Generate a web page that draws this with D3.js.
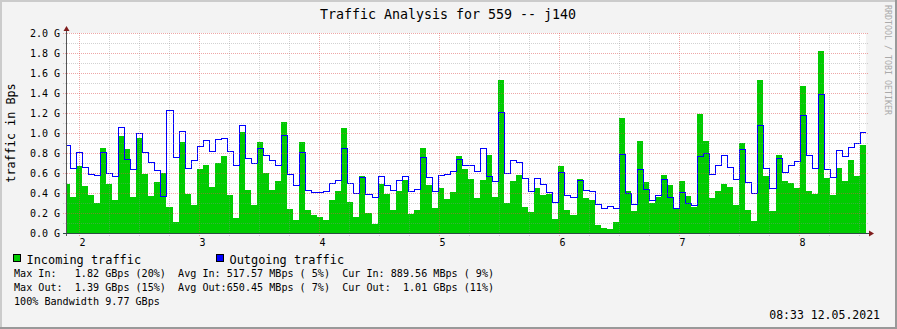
<!DOCTYPE html>
<html>
<head>
<meta charset="utf-8">
<script src="https://cdn.jsdelivr.net/npm/d3@7"></script>
<style>
  body { margin: 0; background: #f3f3f3; }
  text { font-family: "DejaVu Sans Mono", monospace; fill: #000; }
</style>
</head>
<body>
<div id="chart"></div>
<script>
// traffic values in G (Bps), one per 3-minute step
var inTraffic = [
  0.49, 0.36, 0.67, 0.47, 0.38, 0.30, 0.85, 0.49, 0.33, 0.97, 0.84, 0.36, 0.95, 0.59, 0.37, 0.51, 0.60, 0.26, 0.11, 0.91, 0.39, 0.28, 0.64,
  0.68, 0.46, 0.70, 0.77, 0.38, 0.15, 1.01, 0.43, 0.28, 0.91, 0.60, 0.43, 0.52, 1.11, 0.24, 0.13, 0.91, 0.23, 0.18, 0.16, 0.13, 0.33, 0.42,
  1.05, 0.31, 0.16, 0.57, 0.20, 0.09, 0.49, 0.39, 0.23, 0.42, 0.53, 0.19, 0.23, 0.85, 0.48, 0.25, 0.45, 0.34, 0.41, 0.77, 0.64, 0.54,
  0.35, 0.53, 0.78, 0.36, 1.53, 0.30, 0.52, 0.58, 0.26, 0.21, 0.45, 0.38, 0.39, 0.14, 0.67, 0.23, 0.18, 0.54, 0.35, 0.33, 0.08, 0.05,
  0.04, 0.11, 1.15, 0.42, 0.22, 0.92, 0.51, 0.30, 0.36, 0.58, 0.48, 0.25, 0.52, 0.37, 0.26, 1.19, 0.92, 0.35, 0.42, 0.49, 0.46, 0.28,
  0.90, 0.23, 0.12, 1.53, 0.57, 0.22, 0.78, 0.52, 0.50, 0.45, 1.47, 0.42, 0.39, 1.82, 0.55, 0.38, 0.65, 0.52, 0.73, 0.57, 0.88
];
var outTraffic = [
  0.88, 0.65, 0.81, 0.66, 0.59, 0.58, 0.81, 0.60, 0.57, 1.06, 0.74, 0.64, 1.00, 0.81, 0.71, 0.63, 0.37, 1.23, 0.76, 1.02, 0.65, 0.73, 0.87,
  0.93, 0.82, 0.94, 0.95, 0.82, 0.68, 1.08, 0.75, 0.70, 0.85, 0.78, 0.73, 0.68, 0.98, 0.59, 0.48, 0.81, 0.43, 0.41, 0.41, 0.42, 0.50, 0.53,
  0.85, 0.50, 0.40, 0.56, 0.39, 0.36, 0.57, 0.48, 0.43, 0.53, 0.57, 0.42, 0.44, 0.76, 0.56, 0.42, 0.58, 0.59, 0.62, 0.74, 0.68, 0.68,
  0.62, 0.85, 0.57, 0.52, 1.21, 0.60, 0.73, 0.71, 0.55, 0.42, 0.55, 0.49, 0.41, 0.31, 0.61, 0.38, 0.36, 0.53, 0.43, 0.42, 0.29, 0.25,
  0.27, 0.25, 0.79, 0.40, 0.29, 0.64, 0.44, 0.33, 0.38, 0.54, 0.36, 0.25, 0.41, 0.30, 0.28, 0.77, 0.80, 0.59, 0.68, 0.78, 0.66, 0.54,
  0.84, 0.51, 0.40, 1.08, 0.65, 0.45, 0.75, 0.61, 0.68, 0.72, 1.18, 0.78, 0.65, 1.39, 0.64, 0.56, 0.83, 0.77, 0.86, 0.90, 1.01
];
var startHour = 1.8748, stepHour = 0.05025;
var hourTicks = [2, 3, 4, 5, 6, 7, 8];
var yTicks = [0, 0.2, 0.4, 0.6, 0.8, 1.0, 1.2, 1.4, 1.6, 1.8, 2.0];

var titleText = "Traffic Analysis for 559 -- j140";
var legendItems = [{name: "Incoming traffic", color: "#00cc00"}, {name: "Outgoing traffic", color: "#0000ff"}];
var statLines = [
  "Max In:   1.82 GBps (20%)  Avg In: 517.57 MBps ( 5%)  Cur In: 889.56 MBps ( 9%)",
  "Max Out:  1.39 GBps (15%)  Avg Out:650.45 MBps ( 7%)  Cur Out:  1.01 GBps (11%)",
  "100% Bandwidth 9.77 GBps"
];
var dateText = "08:33 12.05.2021";

function drawGraph()
{
  var W = 897, H = 329;
  var pL = 66, pR = 866, pT = 33, pB = 233;

  var svg = d3.select('#chart').append('svg')
      .attr('width', W).attr('height', H);

  // background + 3d frame
  svg.append('rect').attr('width', W).attr('height', H).attr('fill', '#f3f3f3');
  svg.append('path').attr('d', `M1,${H} V1 H${W}`).attr('fill', 'none')
      .attr('stroke', '#cbcbcb').attr('stroke-width', 2);
  svg.append('path').attr('d', `M0,${H - 1} H${W - 1} V0`).attr('fill', 'none')
      .attr('stroke', '#999999').attr('stroke-width', 2);

  var x = d3.scaleLinear().domain([2 - 13 / 120, 2 + 787 / 120]).range([pL, pR]);
  var y = d3.scaleLinear().domain([0, 2]).range([pB, pT]);

  svg.append('rect').attr('x', pL).attr('y', pT)
      .attr('width', pR - pL).attr('height', pB - pT).attr('fill', '#ffffff');

  svg.append('clipPath').attr('id', 'plotclip').append('rect')
      .attr('x', pL).attr('y', pT - 2).attr('width', pR - pL).attr('height', pB - pT + 2);

  var series = inTraffic.map((v, i) => ({t: startHour + i * stepHour, vin: v, vout: outTraffic[i]}));
  var last = series[series.length - 1];
  series.push({t: last.t + stepHour, vin: last.vin, vout: last.vout});

  var plot = svg.append('g').attr('clip-path', 'url(#plotclip)');

  var area = d3.area().curve(d3.curveStepAfter)
      .x(d => Math.round(x(d.t))).y0(y(0)).y1(d => Math.round(y(d.vin)));
  plot.append('path').datum(series).attr('d', area).attr('fill', '#00cc00')
      .attr('shape-rendering', 'crispEdges');

  var line = d3.line().curve(d3.curveStepAfter)
      .x(d => Math.round(x(d.t)) + 0.5).y(d => Math.round(y(d.vout)) + 0.5);
  plot.append('path').datum(series).attr('d', line)
      .attr('fill', 'none').attr('stroke', '#0000ff').attr('stroke-width', 1.1)
      .attr('shape-rendering', 'crispEdges');

  // grid over the data, like rrdtool
  var grid = svg.append('g');
  d3.range(1, 21).forEach(function(k) {
    var v = k / 10, major = k % 2 === 0;
    var yy = Math.round(y(v)) + 0.5;
    grid.append('line')
        .attr('x1', pL - 3).attr('x2', pR + 2).attr('y1', yy).attr('y2', yy)
        .attr('stroke', major ? '#de5050' : '#8f8f8f')
        .attr('stroke-opacity', major ? 0.5 : 0.4)
        .attr('stroke-dasharray', '1,1');
  });
  d3.range(7, 35).forEach(function(k) {
    var h = k / 4, major = k % 4 === 0;
    var xx = Math.round(x(h)) + 0.5;
    if (xx <= pL + 1 || xx >= pR) return;
    grid.append('line')
        .attr('x1', xx).attr('x2', xx).attr('y1', pT).attr('y2', pB + 3)
        .attr('stroke', major ? '#de5050' : '#8f8f8f')
        .attr('stroke-opacity', major ? 0.5 : 0.4)
        .attr('stroke-dasharray', '1,1');
  });

  // axes and arrows
  svg.append('line').attr('x1', pL + 0.5).attr('x2', pL + 0.5)
      .attr('y1', pB + 3).attr('y2', pT - 4)
      .attr('stroke', '#555555').attr('stroke-width', 1);
  svg.append('line').attr('x1', pL - 3).attr('x2', pR + 4)
      .attr('y1', pB + 0.5).attr('y2', pB + 0.5)
      .attr('stroke', '#2c4d43').attr('stroke-width', 1);
  svg.append('path').attr('d', `M${pL - 2.5},${pT - 2} L${pL + 0.5},${pT - 7} L${pL + 3.5},${pT - 2} Z`)
      .attr('fill', '#7f1c1c');
  svg.append('path').attr('d', `M${pR + 3},${pB - 2.5} L${pR + 8},${pB + 0.5} L${pR + 3},${pB + 3.5} Z`)
      .attr('fill', '#7f1c1c');

  // labels
  svg.selectAll('.ylab').data(yTicks).enter().append('text')
      .attr('class', 'ylab')
      .attr('x', 60).attr('y', d => y(d) + 0.5)
      .attr('text-anchor', 'end').attr('dominant-baseline', 'central')
      .style('font-size', '10px')
      .text(d => d3.format('.1f')(d) + ' G');

  svg.selectAll('.xlab').data(hourTicks).enter().append('text')
      .attr('class', 'xlab')
      .attr('x', d => x(d) + 3.5).attr('y', 242.5)
      .attr('text-anchor', 'middle').attr('dominant-baseline', 'central')
      .style('font-size', '10px')
      .text(d => d);

  svg.append('text').attr('transform', 'translate(11,133) rotate(-90)')
      .attr('text-anchor', 'middle').attr('dominant-baseline', 'central')
      .style('font-size', '11.8px').text('traffic in Bps');

  svg.append('text').attr('x', 448).attr('y', 14)
      .attr('text-anchor', 'middle').attr('dominant-baseline', 'central')
      .style('font-size', '13.3px').text(titleText);

  svg.append('text').attr('transform', 'translate(888,60) rotate(90)')
      .attr('text-anchor', 'middle').attr('dominant-baseline', 'central')
      .style('font-size', '8.3px').style('fill', '#aaaaaa')
      .text('RRDTOOL / TOBI OETIKER');

  // legend
  var legendX = [13.5, 216.5];
  legendItems.forEach(function(d, i) {
    svg.append('rect').attr('x', legendX[i]).attr('y', 254.5).attr('width', 7).attr('height', 7)
        .attr('fill', d.color).attr('stroke', '#000').attr('stroke-width', 1);
    svg.append('text').attr('x', legendX[i] + 13).attr('y', 259.5)
        .attr('dominant-baseline', 'central').style('font-size', '11.9px')
        .text(d.name);
  });
  statLines.forEach(function(s, i) {
    svg.append('text').attr('x', 14).attr('y', 273.5 + i * 13.9)
        .attr('dominant-baseline', 'central').style('font-size', '10.1px')
        .style('white-space', 'pre').text(s);
  });
  svg.append('text').attr('x', 880).attr('y', 315)
      .attr('text-anchor', 'end').attr('dominant-baseline', 'central')
      .style('font-size', '11.5px').text(dateText);
}

drawGraph();
</script>
</body>
</html>
